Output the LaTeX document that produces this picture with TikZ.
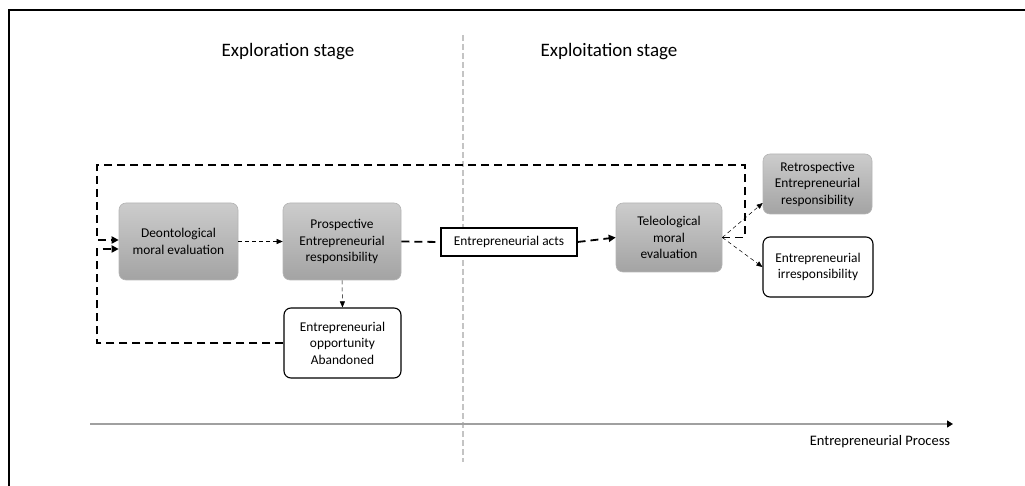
\documentclass[tikz,border=0pt]{standalone}
\usepackage{fontspec}
\setmainfont{Carlito}
\usetikzlibrary{arrows.meta,positioning}
\definecolor{divgray}{HTML}{C4C4C4}
\definecolor{axisgray}{HTML}{A0A0A0}
\definecolor{boxedge}{HTML}{B4B4B4}

\begin{document}
\begin{tikzpicture}[
        x=1pt,y=-1pt,
        >=Latex,
        greybox/.style={rounded corners=7pt,draw=boxedge,line width=.6pt,
          top color=black!20,bottom color=black!36,
          align=center,font=\fontsize{13.4}{16.5}\selectfont,inner sep=2pt},
        whitebox/.style={rounded corners=7pt,draw=black,line width=1.1pt,fill=white,
          align=center,font=\fontsize{13.4}{16.5}\selectfont,inner sep=2pt},
        actbox/.style={draw=black,line width=1.1pt,fill=white,
          font=\fontsize{13.4}{16.5}\selectfont,inner sep=2pt},
        loopline/.style={line width=1.8pt,dash pattern=on 8pt off 5pt},
        thinflow/.style={line width=.5pt,dash pattern=on 4pt off 3pt,
          -{Triangle[length=6pt,width=5pt]}},
        stage/.style={font=\fontsize{19}{22}\selectfont}
      ]
        \useasboundingbox (0,0) rectangle (1025,486);
        % frame along top and left edge
        \draw[line width=2pt] (9,486) -- (9,10) -- (1025,10);

        \node[stage] (explore) at (288,52) {Exploration stage};
        \node[stage] (exploit) at (609,52) {Exploitation stage};
        \draw[divgray,line width=1.6pt,dash pattern=on 6pt off 3pt] (463,35) -- (463,462);

        % process axis
        \coordinate (axstart) at (90,424);
        \coordinate (axend) at (953,424);
        \draw[axisgray,line width=1.4pt,-{Triangle[length=6pt,width=7pt,fill=black,color=black]}] (axstart) -- (axend);
        \node[font=\fontsize{14.5}{16}\selectfont] (procname) at (880,442) {Entrepreneurial Process};

        % boxes
        \node[greybox,minimum width=119pt,minimum height=77pt] (deonto) at (178.5,241.5) {Deontological\\moral evaluation};
        \node[greybox,minimum width=118pt,minimum height=77pt] (prosp) at (342,241.5) {Prospective\\Entrepreneurial\\responsibility};
        \node[whitebox,minimum width=117pt,minimum height=70pt] (aband) at (342.5,343) {Entrepreneurial\\opportunity\\Abandoned};
        \node[actbox,minimum width=136pt,minimum height=28pt] (acts) at (509,242) {Entrepreneurial acts};
        \node[greybox,minimum width=106pt,minimum height=69pt] (teleo) at (669,237.5) {Teleological\\moral\\evaluation};
        \node[greybox,minimum width=109pt,minimum height=60pt] (retro) at (817.5,184) {Retrospective\\Entrepreneurial\\responsibility};
        \node[whitebox,minimum width=110pt,minimum height=60pt] (irresp) at (818,267) {Entrepreneurial\\irresponsibility};

        % thin arrows
        \draw[thinflow] (deonto.east) -- (prosp.west);
        \draw[thinflow] (prosp.south) -- (aband.north);
        \draw[thinflow] (teleo.east) -- ([yshift=-19pt]retro.west);
        \draw[thinflow] (teleo.east) -- (irresp.west);

        % main line through the acts
        \draw[loopline] (prosp.east) -- (acts.west);
        \draw[loopline,-{Triangle[length=7pt,width=7pt]}] (acts.east) -- (teleo.west);

        % feedback loops
        \coordinate (topright) at (745,165);
        \coordinate (topleft) at (97,165);
        \coordinate (botleft) at (97,343);
        \draw[loopline,-{Triangle[length=7pt,width=7pt]}] (teleo.east) -| (topright) -- (topleft) |- ([yshift=1.5pt]deonto.west);
        \draw[loopline,-{Triangle[length=7pt,width=7pt]}] (aband.west) -- (botleft) |- ([yshift=-7.5pt]deonto.west);
      \end{tikzpicture}
\end{document}
